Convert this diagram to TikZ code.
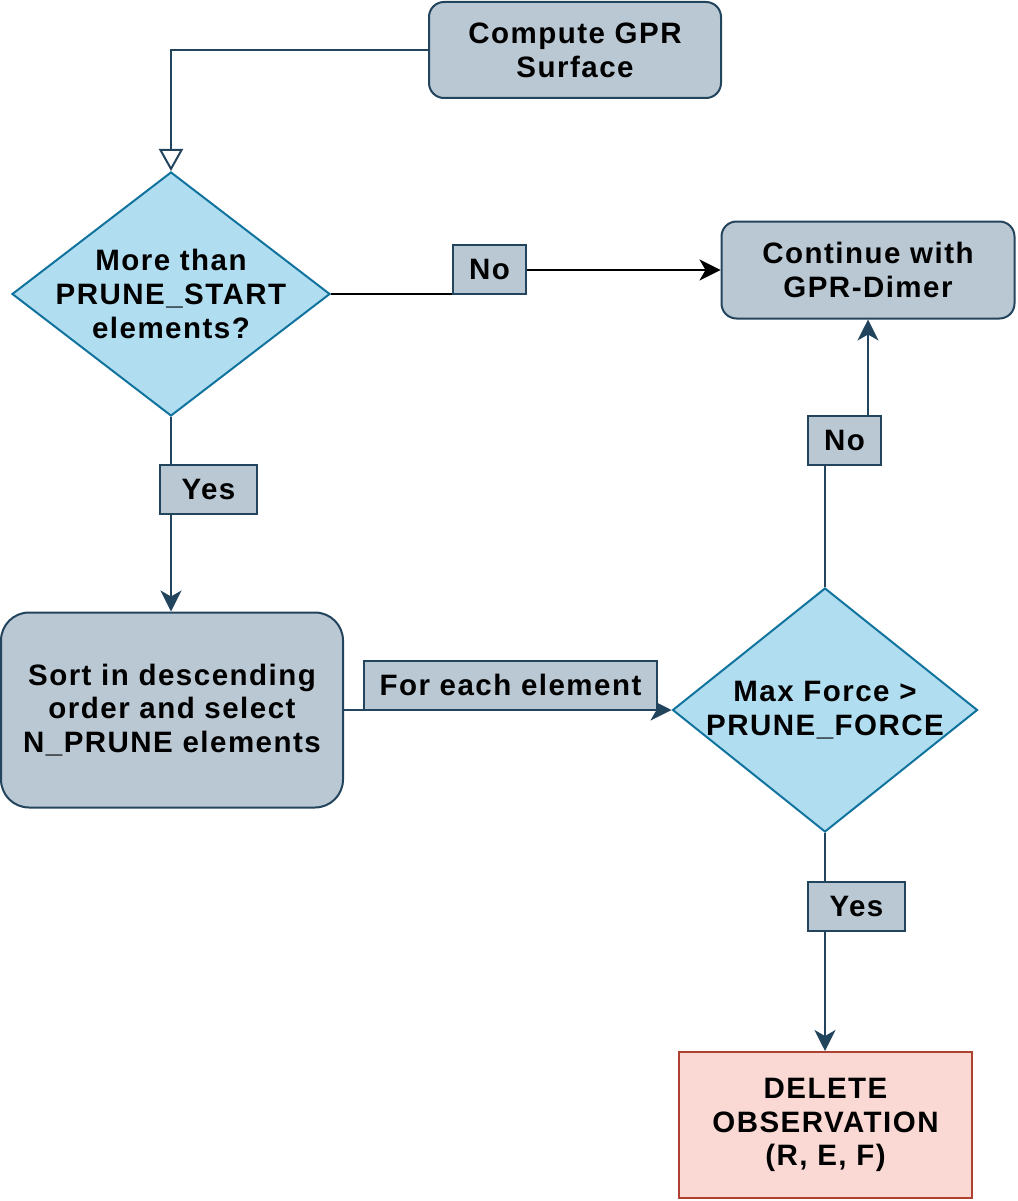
\documentclass[tikz,border=0pt]{standalone}
\usepackage{fontspec}
\setmainfont{Liberation Sans}[LetterSpace=5]
\usepackage{tikz}
\usetikzlibrary{shapes.geometric,arrows.meta}
\definecolor{proc}{HTML}{BAC8D3}
\definecolor{procline}{HTML}{23445D}
\definecolor{decision}{HTML}{B1DDF0}
\definecolor{decisionline}{HTML}{10739E}
\definecolor{remove}{HTML}{FAD9D5}
\definecolor{removeline}{HTML}{AE4132}
\tikzset{flowtext/.style={black,align=center,font=\bfseries\fontsize{29.5}{33.8}\selectfont}}
\tikzset{proc/.style={flowtext,draw=procline,fill=proc,rectangle,rounded corners=15pt,line width=2pt,inner sep=0pt}}
\tikzset{decision/.style={draw=decisionline,fill=decision,diamond,line width=2pt,inner sep=0pt}}
\tikzset{remove/.style={flowtext,draw=removeline,fill=remove,rectangle,line width=2pt,inner sep=0pt}}
\tikzset{answer/.style={flowtext,draw=procline,fill=proc,rectangle,line width=2pt,minimum height=49pt,inner sep=0pt}}
\tikzset{flow/.style={draw=procline,line width=2pt,-{Stealth[length=21pt,width=21pt,inset=6pt]}}}

\begin{document}
\begin{tikzpicture}[x=1pt,y=-1pt]
    \useasboundingbox (0,0) rectangle (1017,1201);

    \node[proc,minimum width=292pt,minimum height=96pt] (compute) at (575,50)
    {Compute GPR\\Surface};

    \node[decision,minimum width=318pt,minimum height=244pt,
    label={[flowtext]center:{More than\\PRUNE\_START\\elements?}}] (more) at (171,294) {};

    \node[proc,minimum width=293pt,minimum height=97pt] (cont) at (868,270)
    {Continue with\\GPR-Dimer};

    \node[proc,rounded corners=28pt,minimum width=342pt,minimum height=195pt] (sort) at (172,710)
    {Sort in descending\\order and select\\N\_PRUNE elements};

    \node[decision,minimum width=305pt,minimum height=244pt,
    label={[flowtext]center:{Max Force >\\PRUNE\_FORCE}}] (force) at (825,710) {};

    \node[remove,minimum width=293pt,minimum height=146pt] (delete) at (825.5,1125)
    {DELETE\\OBSERVATION\\(R, E, F)};

    \draw[draw=procline,line width=2pt,-{Triangle[open,length=22pt,width=24pt]}] (compute.west) -| (more.north);
    \draw[line width=2pt,-{Stealth[length=21pt,width=21pt,inset=6pt]}] (more.east) -- (489,294) |- (cont.west);
    \draw[flow] (more.south) -- (more.south |- sort.north);
    \draw[flow] (sort.east) -- (force.west);
    \draw[flow] (force.north) -- (825,440) -| (cont.south);
    \draw[flow] (force.south) -- (force.south |- delete.north);

    \node[answer,minimum width=73pt] (no1) at (489.5,269.5) {No};
    \node[answer,minimum width=97pt] (yes1) at (208.5,489.5) {Yes};
    \node[answer,minimum width=293pt] (each) at (510.5,685) {For each element};
    \node[answer,minimum width=73pt] (no2) at (844.5,440.5) {No};
    \node[answer,minimum width=97pt] (yes2) at (856.5,906.5) {Yes};

  \end{tikzpicture}
\end{document}
